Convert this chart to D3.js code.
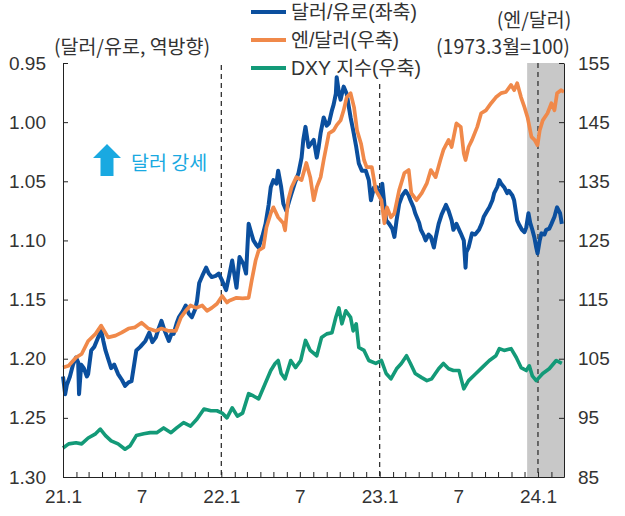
<!DOCTYPE html>
<html><head><meta charset="utf-8">
<script src="https://cdn.jsdelivr.net/npm/d3@7"></script>
<style>body{margin:0;background:#fff}svg{display:block}</style>
</head><body><svg id="c" width="625" height="516"></svg>
<script>
// ---------- DATA ----------
const eurDates = ["2021-01-01","2021-01-06","2021-01-10","2021-01-17","2021-01-24","2021-01-31","2021-02-05","2021-02-07","2021-02-12","2021-02-18","2021-02-25","2021-02-28","2021-03-07","2021-03-14","2021-03-23","2021-03-30","2021-04-04","2021-04-09","2021-04-15","2021-04-22","2021-04-29","2021-05-08","2021-05-17","2021-05-24","2021-06-01","2021-06-08","2021-06-14","2021-06-19","2021-06-28","2021-07-10","2021-07-19","2021-07-26","2021-08-03","2021-08-09","2021-08-16","2021-08-23","2021-09-02","2021-09-09","2021-09-13","2021-09-20","2021-09-25","2021-10-04","2021-10-11","2021-10-18","2021-10-25","2021-11-02","2021-11-06","2021-11-11","2021-11-18","2021-11-27","2021-12-03","2021-12-10","2021-12-19","2021-12-26","2022-01-03","2022-01-12","2022-01-19","2022-01-26","2022-02-05","2022-02-12","2022-02-21","2022-02-27","2022-03-05","2022-03-12","2022-03-16","2022-03-23","2022-03-28","2022-04-06","2022-04-13","2022-04-20","2022-04-25","2022-05-01","2022-05-08","2022-05-12","2022-05-19","2022-05-24","2022-05-31","2022-06-07","2022-06-12","2022-06-19","2022-06-28","2022-07-05","2022-07-09","2022-07-14","2022-07-21","2022-07-27","2022-08-02","2022-08-09","2022-08-13","2022-08-18","2022-08-25","2022-09-01","2022-09-06","2022-09-13","2022-09-17","2022-09-22","2022-09-24","2022-09-29","2022-10-03","2022-10-10","2022-10-17","2022-10-21","2022-10-26","2022-11-01","2022-11-08","2022-11-14","2022-11-21","2022-11-30","2022-12-07","2022-12-12","2022-12-19","2022-12-26","2022-12-31","2023-01-05","2023-01-07","2023-01-12","2023-01-16","2023-01-23","2023-01-30","2023-02-04","2023-02-09","2023-02-15","2023-02-22","2023-03-02","2023-03-09","2023-03-13","2023-03-20","2023-03-24","2023-04-02","2023-04-06","2023-04-13","2023-04-17","2023-04-24","2023-04-29","2023-05-06","2023-05-10","2023-05-17","2023-05-24","2023-06-03","2023-06-09","2023-06-16","2023-06-20","2023-06-27","2023-07-07","2023-07-14","2023-07-18","2023-07-20","2023-07-25","2023-08-02","2023-08-09","2023-08-18","2023-08-25","2023-08-29","2023-09-06","2023-09-11","2023-09-18","2023-09-22","2023-09-29","2023-10-04","2023-10-08","2023-10-15","2023-10-22","2023-10-26","2023-11-03","2023-11-07","2023-11-14","2023-11-19","2023-11-25","2023-12-01","2023-12-05","2023-12-10","2023-12-14","2023-12-19","2023-12-24","2023-12-28","2023-12-31","2024-01-05","2024-01-09","2024-01-16","2024-01-20","2024-01-27","2024-02-01","2024-02-08","2024-02-14","2024-02-21","2024-02-25"];
const eurValues = [1.215,1.230,1.222,1.215,1.205,1.199,1.203,1.230,1.205,1.208,1.215,1.213,1.193,1.190,1.182,1.176,1.185,1.193,1.200,1.208,1.205,1.213,1.218,1.223,1.220,1.219,1.205,1.193,1.190,1.185,1.178,1.186,1.182,1.175,1.168,1.176,1.185,1.178,1.179,1.170,1.165,1.160,1.155,1.162,1.165,1.158,1.151,1.136,1.130,1.123,1.128,1.131,1.130,1.128,1.134,1.142,1.130,1.117,1.140,1.114,1.120,1.128,1.086,1.095,1.100,1.104,1.106,1.096,1.086,1.070,1.055,1.049,1.052,1.041,1.055,1.069,1.075,1.066,1.060,1.052,1.043,1.030,1.015,1.004,1.021,1.018,1.015,1.030,1.022,1.009,0.996,1.003,1.001,0.990,0.985,0.976,0.962,0.975,0.981,0.970,0.976,0.985,0.996,1.007,1.021,1.035,1.041,1.041,1.049,1.066,1.055,1.055,1.060,1.066,1.052,1.070,1.083,1.086,1.090,1.097,1.083,1.069,1.062,1.058,1.062,1.066,1.072,1.077,1.085,1.091,1.096,1.100,1.095,1.097,1.106,1.098,1.086,1.078,1.070,1.075,1.083,1.091,1.086,1.094,1.100,1.123,1.110,1.106,1.094,1.095,1.091,1.085,1.080,1.075,1.072,1.066,1.060,1.055,1.049,1.052,1.055,1.060,1.058,1.062,1.066,1.083,1.087,1.091,1.093,1.089,1.077,1.085,1.091,1.098,1.106,1.111,1.100,1.094,1.095,1.091,1.090,1.086,1.080,1.072,1.077,1.086];

const jpyDates = ["2021-01-01","2021-01-14","2021-01-31","2021-02-13","2021-02-28","2021-03-17","2021-03-30","2021-04-15","2021-05-02","2021-05-16","2021-06-01","2021-06-16","2021-07-01","2021-07-17","2021-08-03","2021-08-16","2021-09-02","2021-09-18","2021-09-30","2021-10-11","2021-10-22","2021-11-04","2021-11-18","2021-11-29","2021-12-10","2021-12-22","2022-01-03","2022-01-14","2022-01-19","2022-02-05","2022-02-19","2022-03-05","2022-03-12","2022-03-21","2022-03-28","2022-04-08","2022-04-15","2022-04-25","2022-05-01","2022-05-12","2022-05-24","2022-05-28","2022-06-04","2022-06-12","2022-06-23","2022-07-05","2022-07-16","2022-07-25","2022-08-02","2022-08-09","2022-08-18","2022-08-25","2022-09-06","2022-09-17","2022-09-24","2022-10-03","2022-10-10","2022-10-17","2022-10-26","2022-11-03","2022-11-10","2022-11-19","2022-11-26","2022-12-02","2022-12-14","2022-12-23","2023-01-05","2023-01-12","2023-01-18","2023-01-27","2023-02-04","2023-02-15","2023-02-27","2023-03-09","2023-03-15","2023-03-27","2023-04-08","2023-04-20","2023-04-29","2023-05-10","2023-05-21","2023-05-28","2023-06-09","2023-06-16","2023-06-27","2023-07-07","2023-07-14","2023-07-18","2023-07-25","2023-08-02","2023-08-14","2023-08-23","2023-09-03","2023-09-15","2023-09-26","2023-10-08","2023-10-19","2023-10-31","2023-11-07","2023-11-14","2023-11-23","2023-12-01","2023-12-08","2023-12-17","2023-12-24","2023-12-31","2024-01-05","2024-01-12","2024-01-23","2024-02-01","2024-02-08","2024-02-14","2024-02-23","2024-03-01"];
const jpyValues = [103.5,103.8,105.2,105.8,108.0,109.2,110.6,108.6,108.9,109.4,110.1,110.3,111.1,110.1,109.7,110.1,109.7,109.7,112.0,113.1,114.0,113.6,114.0,113.1,113.6,114.3,115.6,114.5,114.8,115.3,115.2,115.3,118.2,121.6,123.3,123.8,127.2,129.6,130.6,128.9,127.9,126.7,131.8,134.0,135.7,135.2,138.1,135.7,131.8,134.0,135.7,138.6,143.1,143.6,144.5,145.3,147.0,149.2,149.9,147.5,143.6,141.4,138.6,137.4,137.4,133.5,131.8,127.9,130.6,128.9,129.6,133.5,136.4,136.9,133.0,131.8,133.0,134.7,136.9,135.7,138.6,140.3,142.0,140.8,144.8,144.2,139.7,138.6,140.8,142.0,144.2,146.5,147.0,148.2,149.2,149.9,150.1,151.3,150.4,151.6,149.2,147.5,145.8,142.5,142.0,141.1,143.6,145.3,146.5,148.2,147.0,149.9,150.4,150.1];

const dxyDates = ["2021-01-01","2021-01-14","2021-01-31","2021-02-13","2021-02-28","2021-03-17","2021-03-28","2021-04-09","2021-04-22","2021-05-08","2021-05-24","2021-06-05","2021-06-19","2021-07-06","2021-07-21","2021-08-05","2021-08-21","2021-09-07","2021-09-20","2021-10-06","2021-10-22","2021-11-06","2021-11-22","2021-12-08","2021-12-22","2022-01-03","2022-01-14","2022-01-26","2022-02-07","2022-02-19","2022-03-05","2022-03-16","2022-03-28","2022-04-08","2022-04-25","2022-05-05","2022-05-12","2022-05-19","2022-05-28","2022-06-10","2022-06-21","2022-07-03","2022-07-14","2022-07-25","2022-08-09","2022-08-20","2022-09-01","2022-09-13","2022-09-22","2022-09-29","2022-10-06","2022-10-15","2022-10-26","2022-11-01","2022-11-08","2022-11-14","2022-11-26","2022-12-07","2022-12-23","2023-01-05","2023-01-16","2023-01-27","2023-02-09","2023-02-20","2023-03-04","2023-03-13","2023-03-24","2023-04-08","2023-04-20","2023-05-01","2023-05-17","2023-05-28","2023-06-09","2023-06-20","2023-07-03","2023-07-09","2023-07-14","2023-07-25","2023-08-11","2023-08-25","2023-09-11","2023-09-26","2023-10-04","2023-10-15","2023-10-31","2023-11-12","2023-11-23","2023-12-05","2023-12-12","2023-12-19","2023-12-28","2024-01-12","2024-01-27","2024-02-12","2024-02-25"];
const dxyValues = [89.9,90.6,90.8,90.6,91.6,92.3,93.1,92.0,91.1,90.6,89.7,90.3,92.0,92.3,92.5,92.5,93.3,92.5,93.3,94.2,93.6,94.8,96.5,96.2,96.2,95.8,95.0,96.7,95.3,95.8,99.1,98.7,98.2,100.1,103.0,104.2,104.7,102.5,101.6,104.7,103.5,104.7,108.1,106.4,105.5,108.6,109.2,109.4,112.0,113.6,110.9,113.1,112.0,109.7,110.9,106.9,106.4,104.7,104.2,104.7,102.5,101.6,103.3,104.2,105.5,104.2,102.5,101.8,101.3,101.6,103.3,104.2,103.3,103.0,103.0,101.3,99.9,101.3,102.5,103.5,104.7,105.5,106.7,106.4,106.7,105.2,103.5,103.0,103.8,102.1,101.3,102.5,103.3,104.7,104.2];

const leftTicks = [0.95,1.00,1.05,1.10,1.15,1.20,1.25,1.30];
const rightTicks = [85,95,105,115,125,135,145,155];
const xLabelDates = ["2021-01-01","2021-07-01","2022-01-01","2022-07-01","2023-01-01","2023-07-01","2024-01-01"];
const xLabels = ["21.1","7","22.1","7","23.1","7","24.1"];
const eventDates = ["2022-01-01","2023-01-01","2024-01-01"];
const shadeStart = "2023-12-07";
const seriesNames = ["달러/유로(좌축)","엔/달러(우축)","DXY 지수(우축)"];

// ---------- CHART ----------
const parse = d3.timeParse("%Y-%m-%d");
const L = 63, R = 564, T = 63, B = 477;
const x = d3.scaleTime().domain([parse("2021-01-01"), parse("2024-03-01")]).range([L, R]);
const yL = d3.scaleLinear().domain([0.95, 1.30]).range([T, B]);
const yR = d3.scaleLinear().domain([85, 155]).range([B, T]);
const svg = d3.select("#c");
const FONT = "'Liberation Sans','Noto Sans CJK KR',sans-serif";
const KFONT = "'Noto Sans CJK KR','Liberation Sans',sans-serif";
const colors = ["#0b4f9e", "#f0894a", "#139a78"];

svg.append("rect").attr("width", 625).attr("height", 516).attr("fill", "#fff");

// shaded period
svg.append("rect")
  .attr("x", x(parse(shadeStart))).attr("y", T)
  .attr("width", R - x(parse(shadeStart))).attr("height", B - T)
  .attr("fill", "#c8c8c8");

// dashed event lines
const dashTops = [65, 84, 63];
eventDates.forEach((d, i) => {
  svg.append("line")
    .attr("x1", x(parse(d))).attr("x2", x(parse(d)))
    .attr("y1", dashTops[i]).attr("y2", B)
    .attr("stroke", "#333").attr("stroke-width", 1.3).attr("stroke-dasharray", "5,4");
});

// lines
function mk(dates, vals) { return dates.map((d, i) => ({ d: parse(d), v: vals[i] })); }
const lineL = d3.line().x(p => x(p.d)).y(p => yL(p.v));
const lineR = d3.line().x(p => x(p.d)).y(p => yR(p.v));
svg.append("path").datum(mk(eurDates, eurValues)).attr("d", lineL)
  .attr("fill", "none").attr("stroke", colors[0]).attr("stroke-width", 4).attr("stroke-linejoin", "round");
svg.append("path").datum(mk(jpyDates, jpyValues)).attr("d", lineR)
  .attr("fill", "none").attr("stroke", colors[1]).attr("stroke-width", 3.7).attr("stroke-linejoin", "round");
svg.append("path").datum(mk(dxyDates, dxyValues)).attr("d", lineR)
  .attr("fill", "none").attr("stroke", colors[2]).attr("stroke-width", 3.6).attr("stroke-linejoin", "round");

// axes
function styleAxis(g) {
  g.selectAll("path,line").attr("stroke", "#222").attr("stroke-width", 1);
  g.selectAll("text").attr("font-family", FONT).attr("font-size", 19).attr("fill", "#333");
}
svg.append("g").attr("transform", `translate(${L},0)`)
  .call(d3.axisLeft(yL).tickValues(leftTicks).tickFormat(d3.format(".2f")).tickSize(-5).tickSizeOuter(0).tickPadding(17))
  .call(styleAxis);
svg.append("g").attr("transform", `translate(${R},0)`)
  .call(d3.axisRight(yR).tickValues(rightTicks).tickFormat(d3.format("d")).tickSize(-5).tickSizeOuter(0).tickPadding(14))
  .call(styleAxis);
const labelMap = new Map(xLabelDates.map((d, i) => [+parse(d), xLabels[i]]));
svg.append("g").attr("transform", `translate(0,${B})`)
  .call(d3.axisBottom(x).ticks(d3.timeMonth.every(1)).tickFormat(d => labelMap.get(+d) || "")
    .tickSize(-5).tickSizeOuter(0).tickPadding(13))
  .call(styleAxis);

// axis titles
function txt(s, xx, yy, anchor, size, color, fam) {
  svg.append("text").attr("x", xx).attr("y", yy).attr("text-anchor", anchor || "middle")
    .attr("font-family", fam || KFONT).attr("font-size", size || 19.5).attr("fill", color || "#333").text(s);
}
txt("(달러/유로, 역방향)", 132, 54, "middle", 19.5);
txt("(엔/달러)", 534, 27, "middle", 19.5);
txt("(1973.3월=100)", 503, 54, "middle", 19.5);

// legend
seriesNames.forEach((n, i) => {
  const yy = 12 + i * 28;
  svg.append("line").attr("x1", 251).attr("x2", 286).attr("y1", yy).attr("y2", yy)
    .attr("stroke", colors[i]).attr("stroke-width", 4);
  txt(n, 291, yy + 7, "start", 19.5, "#333", FONT);
});

// annotation arrow
const ax = 107, ay = 144;
svg.append("path")
  .attr("d", `M${ax},${ay} L${ax + 14},${ay + 14} L${ax + 6.5},${ay + 14} L${ax + 6.5},${ay + 32} L${ax - 6.5},${ay + 32} L${ax - 6.5},${ay + 14} L${ax - 14},${ay + 14} Z`)
  .attr("fill", "#19a9e1");
txt("달러 강세", 131, 170, "start", 19.5, "#19a9e1");
</script>
</body></html>
